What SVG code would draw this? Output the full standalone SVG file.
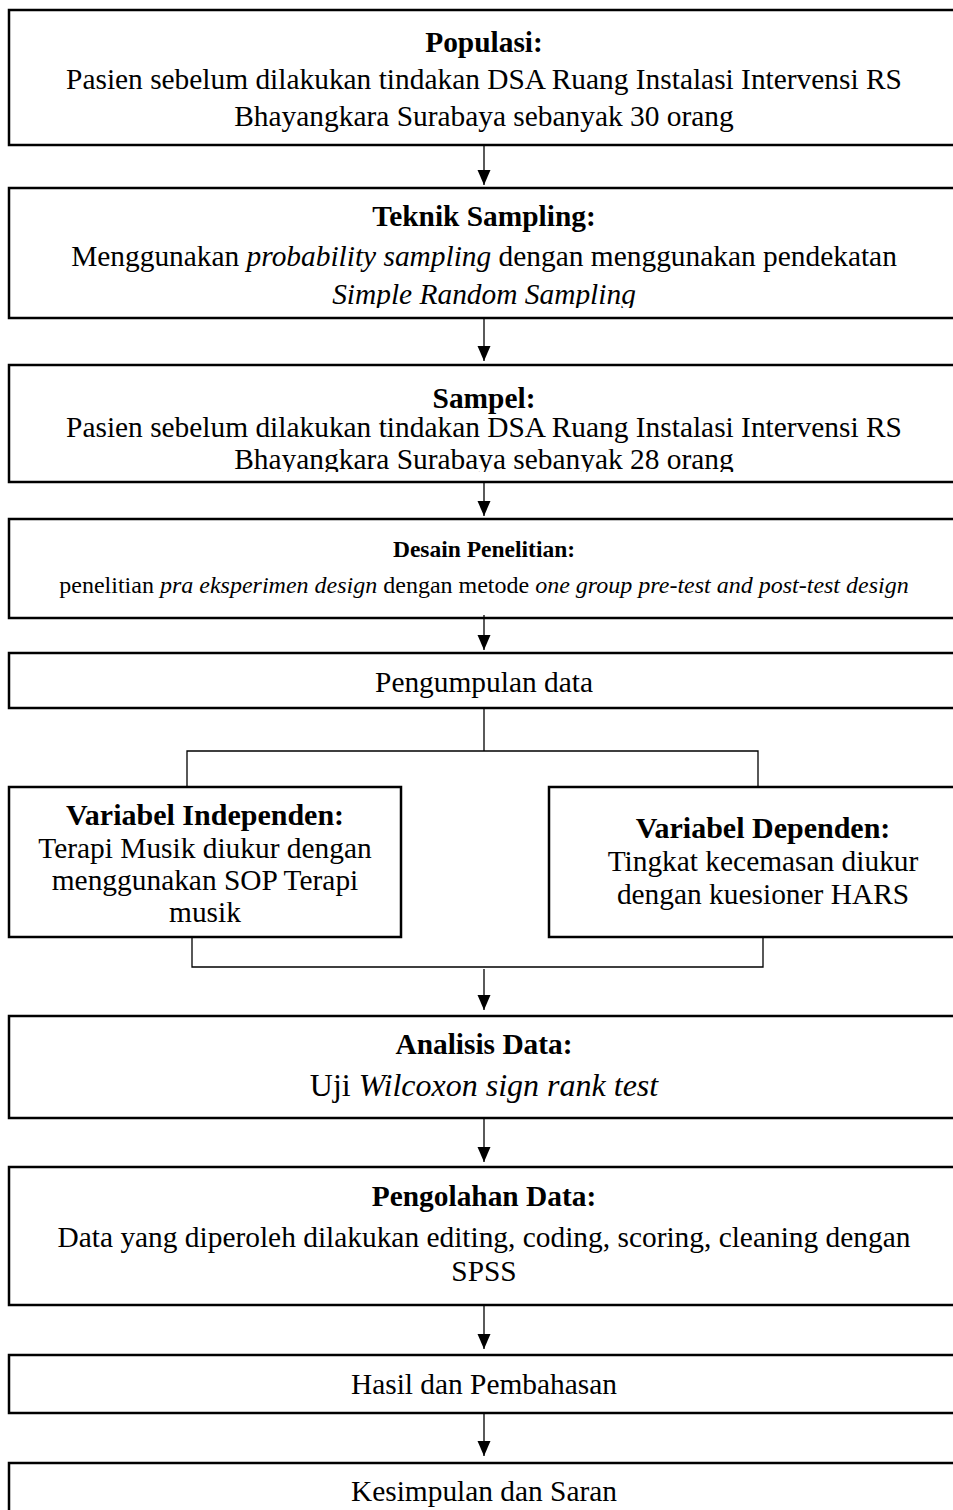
<svg xmlns="http://www.w3.org/2000/svg" width="953" height="1510" viewBox="0 0 953 1510">
<style>
.box{fill:#fff;stroke:#000;stroke-width:2.5}
.ln{fill:none;stroke:#000;stroke-width:1.3}
text{font-family:"Liberation Serif","Times New Roman",serif;fill:#000;text-anchor:middle}
.t{font-size:29.4px}
.b{font-size:29.4px;font-weight:bold}
.i{font-style:italic}
</style>
<defs>
<marker id="ah" markerWidth="16" markerHeight="14" refX="15" refY="7" orient="auto" markerUnits="userSpaceOnUse" viewBox="0 0 16 14">
<path d="M0,0.5 L15,7 L0,13.5 Z" fill="#000"/>
</marker>
<clipPath id="c2"><rect x="0" y="188" width="953" height="120"/></clipPath>
<clipPath id="c3"><rect x="0" y="365" width="953" height="107"/></clipPath>
</defs>

<g id="populasi">
<rect class="box" x="9" y="10" width="960" height="135"/>
<text class="b" x="484" y="52">Populasi:</text>
<text class="t" x="484" y="89">Pasien sebelum dilakukan tindakan DSA Ruang Instalasi Intervensi RS</text>
<text class="t" x="484" y="126">Bhayangkara Surabaya sebanyak 30 orang</text>
</g>

<g id="teknik">
<rect class="box" x="9" y="188" width="960" height="130"/>
<g clip-path="url(#c2)">
<text class="b" x="484" y="226">Teknik Sampling:</text>
<text class="t" x="484" y="266">Menggunakan <tspan class="i">probability sampling</tspan> dengan menggunakan pendekatan</text>
<text class="t i" x="484" y="304">Simple Random Sampling</text>
</g>
</g>

<g id="sampel">
<rect class="box" x="9" y="365" width="960" height="117"/>
<g clip-path="url(#c3)">
<text class="b" x="484" y="408">Sampel:</text>
<text class="t" x="484" y="437">Pasien sebelum dilakukan tindakan DSA Ruang Instalasi Intervensi RS</text>
<text class="t" x="484" y="469">Bhayangkara Surabaya sebanyak 28 orang</text>
</g>
</g>

<g id="desain">
<rect class="box" x="9" y="519" width="960" height="99"/>
<text x="484" y="557" style="font-size:23.5px;font-weight:bold">Desain Penelitian:</text>
<text x="484" y="593" style="font-size:24px">penelitian <tspan class="i">pra eksperimen design</tspan> dengan metode <tspan class="i">one group pre-test and post-test design</tspan></text>
</g>

<g id="pengumpulan">
<rect class="box" x="9" y="653" width="960" height="55"/>
<text class="t" x="484" y="692">Pengumpulan data</text>
</g>

<g id="independen">
<rect class="box" x="9" y="787" width="392" height="150"/>
<text class="b" x="205" y="825" style="font-size:30px">Variabel Independen:</text>
<text class="t" x="205" y="858">Terapi Musik diukur dengan</text>
<text class="t" x="205" y="890">menggunakan SOP Terapi</text>
<text class="t" x="205" y="922">musik</text>
</g>

<g id="dependen">
<rect class="box" x="549" y="787" width="420" height="150"/>
<text class="b" x="763" y="838" style="font-size:30px">Variabel Dependen:</text>
<text class="t" x="763" y="871">Tingkat kecemasan diukur</text>
<text class="t" x="763" y="904">dengan kuesioner HARS</text>
</g>

<g id="analisis">
<rect class="box" x="9" y="1016" width="960" height="102"/>
<text class="b" x="484" y="1054">Analisis Data:</text>
<text x="484" y="1096" style="font-size:32px">Uji <tspan class="i">Wilcoxon sign rank test</tspan></text>
</g>

<g id="pengolahan">
<rect class="box" x="9" y="1167" width="960" height="138"/>
<text class="b" x="484" y="1206">Pengolahan Data:</text>
<text class="t" x="484" y="1247">Data yang diperoleh dilakukan editing, coding, scoring, cleaning dengan</text>
<text class="t" x="484" y="1281">SPSS</text>
</g>

<g id="hasil">
<rect class="box" x="9" y="1355" width="960" height="58"/>
<text class="t" x="484" y="1394">Hasil dan Pembahasan</text>
</g>

<g id="kesimpulan">
<rect class="box" x="9" y="1463" width="960" height="80"/>
<text class="t" x="484" y="1501">Kesimpulan dan Saran</text>
</g>

<g id="connectors">
<line class="ln" x1="484" y1="146" x2="484" y2="185" marker-end="url(#ah)"/>
<line class="ln" x1="484" y1="319" x2="484" y2="361" marker-end="url(#ah)"/>
<line class="ln" x1="484" y1="483" x2="484" y2="516" marker-end="url(#ah)"/>
<line class="ln" x1="484" y1="615" x2="484" y2="650" marker-end="url(#ah)"/>
<polyline class="ln" points="484,709 484,751"/>
<polyline class="ln" points="187,786 187,751 758,751 758,786"/>
<polyline class="ln" points="192,938 192,967 763,967 763,938"/>
<line class="ln" x1="484" y1="969" x2="484" y2="1010" marker-end="url(#ah)"/>
<line class="ln" x1="484" y1="1119" x2="484" y2="1162" marker-end="url(#ah)"/>
<line class="ln" x1="484" y1="1306" x2="484" y2="1349" marker-end="url(#ah)"/>
<line class="ln" x1="484" y1="1414" x2="484" y2="1456" marker-end="url(#ah)"/>
</g>
</svg>
